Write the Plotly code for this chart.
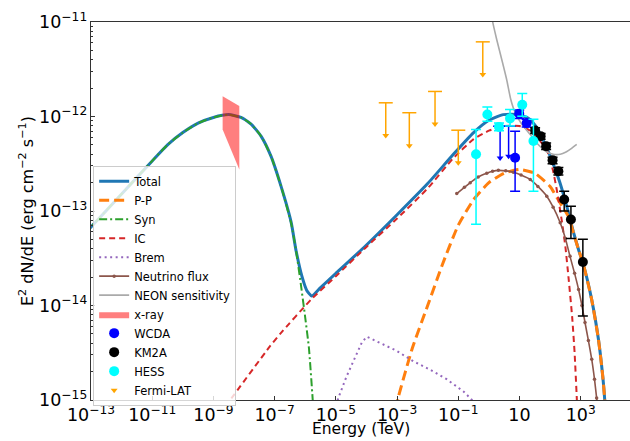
import plotly.graph_objects as go

# ---------------- model curves: log10(E/TeV), log10(E^2 dN/dE) ----------------
total_logE = [-13.2, -13.0, -12.0, -11.0, -10.5, -10.0, -9.5, -9.0, -8.5, -8.1, -7.77, -7.44,
              -7.12, -6.79, -6.46, -6.3, -6.11, -5.95, -5.79, -5.5, -5.0, -4.0, -3.0, -2.0,
              -1.16, -0.5, 0.0, 0.47, 1.0, 1.3, 1.5, 1.7, 1.9, 2.1, 2.3, 2.45, 2.6, 2.76,
              2.93, 3.09, 3.36, 3.58, 3.72, 3.78, 3.82]
total_logF = [-13.24, -13.17, -12.82, -12.47, -12.30, -12.17, -12.07, -12.01, -11.98, -12.01,
              -12.08, -12.21, -12.42, -12.74, -13.12, -13.42, -13.69, -13.84, -13.90, -13.81,
              -13.66, -13.36, -13.04, -12.71, -12.40, -12.17, -12.04, -11.98, -11.98, -12.02,
              -12.09, -12.20, -12.34, -12.50, -12.68, -12.84, -13.02, -13.22, -13.41, -13.57,
              -13.94, -14.36, -14.75, -14.98, -15.3]

pp_logE = [-3.05, -2.96, -2.5, -2.0, -1.5, -1.0, -0.5, 0.0, 0.5, 1.0, 1.5, 2.0, 2.3, 2.6,
           2.76, 2.93, 3.09, 3.36, 3.58, 3.72, 3.78, 3.82]
pp_logF = [-15.1, -14.97, -14.45, -14.0, -13.55, -13.15, -12.88, -12.70, -12.60, -12.56,
           -12.60, -12.74, -12.90, -13.06, -13.23, -13.41, -13.57, -13.94, -14.36, -14.75,
           -14.98, -15.3]

syn_logE = [-13.2, -13.0, -12.0, -11.0, -10.5, -10.0, -9.5, -9.0, -8.5, -8.1, -7.77, -7.44,
            -7.12, -6.79, -6.46, -6.3, -6.15, -6.0, -5.88, -5.76, -5.7]
syn_logF = [-13.24, -13.17, -12.82, -12.47, -12.30, -12.17, -12.07, -12.01, -11.98, -12.01,
            -12.08, -12.21, -12.42, -12.74, -13.13, -13.42, -13.76, -14.13, -14.45, -14.98, -15.3]

ic_logE = [-8.6, -8.45, -7.15, -6.82, -5.79, -5.0, -4.0, -3.0, -2.0, -1.16, -0.5, 0.0, 0.5,
           1.0, 1.35, 1.67, 1.87, 2.0, 2.1, 2.22, 2.38, 2.5, 2.6, 2.72, 2.8, 2.87, 2.9]
ic_logF = [-15.07, -15.0, -14.43, -14.30, -13.93, -13.69, -13.38, -13.08, -12.76, -12.44,
           -12.24, -12.15, -12.10, -12.10, -12.15, -12.26, -12.34, -12.45, -12.58, -12.78,
           -13.10, -13.38, -13.70, -14.12, -14.50, -14.97, -15.2]

brem_logE = [-5.0, -4.92, -4.65, -4.37, -4.15, -3.99, -3.56, -3.01, -2.47, -1.92, -1.38, -0.83,
             -0.61, -0.5]
brem_logF = [-15.06, -14.98, -14.75, -14.54, -14.39, -14.33, -14.395, -14.48, -14.59, -14.68,
             -14.78, -14.91, -14.98, -15.02]

nu_logE = [-1.05, -0.8, -0.61, -0.35, -0.07, 0.12, 0.31, 0.55, 0.80, 1.05, 1.35, 1.6, 1.89,
           2.1, 2.33, 2.5, 2.65, 2.8, 2.93, 3.04, 3.14, 3.25, 3.36, 3.45, 3.52, 3.56]
nu_logF = [-12.815, -12.75, -12.70, -12.64, -12.60, -12.58, -12.57, -12.575, -12.59, -12.62,
           -12.667, -12.74, -12.843, -12.96, -13.125, -13.29, -13.48, -13.66, -13.83, -14.0,
           -14.18, -14.37, -14.57, -14.78, -14.98, -15.1]

neon_logE = [0.10, 0.125, 0.255, 0.42, 0.58, 0.715, 0.856, 1.08, 1.35, 1.61, 1.87, 2.10, 2.33,
             2.52, 2.69, 2.87]
neon_logF = [-10.9, -11.0, -11.185, -11.397, -11.608, -11.82, -11.958, -12.085, -12.19, -12.296,
             -12.37, -12.40, -12.40, -12.376, -12.34, -12.296]

# x-ray band (butterfly)
xray_E = [2.0e-9, 7.0e-9]
xray_upper = [1.64e-12, 1.29e-12]
xray_lower = [7.28e-13, 2.75e-13]

# ---------------- data points (log10 values) ----------------
wcda_logE = [0.856, 0.99, 1.235]
wcda_logF = [-12.437, -11.97, -12.07]
wcda_logHi = [-12.155, -11.93, -12.03]
wcda_logLo = [-12.79, -12.02, -12.11]
wcda_ul_logE = [0.366, 0.644]
wcda_ul_logTop = [-12.103, -12.103]
wcda_ul_logTip = [-12.44, -12.42]

km2a_logE = [1.51, 1.69, 1.87, 2.08, 2.27, 2.46, 2.68, 3.07]
km2a_logF = [-12.148, -12.208, -12.314, -12.462, -12.579, -12.878, -13.09, -13.54]
km2a_logHi = [-12.12, -12.18, -12.28, -12.43, -12.54, -12.79, -12.95, -13.30]
km2a_logLo = [-12.18, -12.24, -12.35, -12.50, -12.62, -13.00, -13.29, -14.11]

hess_logE = [-0.42, -0.05, 0.33, 0.69, 1.09, 1.455]
hess_logF = [-12.40, -11.979, -12.11, -12.02, -11.876, -12.26]
hess_logHi = [-12.137, -11.90, -12.07, -11.926, -11.757, -12.03]
hess_logLo = [-13.14, -12.05, -12.15, -12.10, -11.997, -12.79]

fermi_logE = [-3.37, -2.60, -1.76, -1.0, -0.20]
fermi_logTop = [-11.855, -11.96, -11.735, -12.145, -11.21]
fermi_logTip = [-12.20, -12.31, -12.08, -12.49, -11.556]


def P(v):
    return [10 ** a for a in v]


def errs(lf, lhi, llo):
    y = P(lf)
    hi = [10 ** h - v for h, v in zip(lhi, y)]
    lo = [v - 10 ** l for l, v in zip(llo, y)]
    return y, hi, lo


FONT = "DejaVu Sans"
fig = go.Figure()

fig.add_trace(go.Scatter(x=P(total_logE), y=P(total_logF), mode="lines", name="Total",
                         line=dict(color="#1f77b4", width=3, shape="spline", smoothing=0.5)))
fig.add_trace(go.Scatter(x=P(pp_logE), y=P(pp_logF), mode="lines", name="P-P",
                         line=dict(color="#ff7f0e", width=3, dash="10px,5px", shape="spline", smoothing=0.5)))
fig.add_trace(go.Scatter(x=P(syn_logE), y=P(syn_logF), mode="lines", name="Syn",
                         line=dict(color="#2ca02c", width=2, dash="8px,3px,2px,3px", shape="spline", smoothing=0.5)))
fig.add_trace(go.Scatter(x=P(ic_logE), y=P(ic_logF), mode="lines", name="IC",
                         line=dict(color="#d62728", width=2, dash="6px,4px", shape="spline", smoothing=0.5)))
fig.add_trace(go.Scatter(x=P(brem_logE), y=P(brem_logF), mode="lines", name="Brem",
                         line=dict(color="#9467bd", width=2, dash="2px,3.5px")))
fig.add_trace(go.Scatter(x=P(nu_logE), y=P(nu_logF), mode="lines+markers", name="Neutrino flux",
                         line=dict(color="#8c564b", width=1.6, shape="spline", smoothing=0.5),
                         marker=dict(color="#8c564b", size=3.5)))
fig.add_trace(go.Scatter(x=P(neon_logE), y=P(neon_logF), mode="lines", name="NEON sensitivity",
                         line=dict(color="#aaaaaa", width=1.6, shape="spline", smoothing=0.5)))
fig.add_trace(go.Scatter(x=[xray_E[0], xray_E[1], xray_E[1], xray_E[0], xray_E[0]],
                         y=[xray_upper[0], xray_upper[1], xray_lower[1], xray_lower[0], xray_upper[0]],
                         mode="lines", fill="toself", fillcolor="rgba(255,0,0,0.5)",
                         line=dict(width=0, color="rgba(255,0,0,0)"), name="x-ray"))

# WCDA
y, hi, lo = errs(wcda_logF, wcda_logHi, wcda_logLo)
fig.add_trace(go.Scatter(x=P(wcda_logE), y=y, mode="markers", name="WCDA",
                         marker=dict(color="#0000ff", size=10),
                         error_y=dict(type="data", symmetric=False, array=hi, arrayminus=lo,
                                      color="#0000ff", thickness=1.5, width=5)))
ulb_top = P(wcda_ul_logTop)
ulb_tip = P(wcda_ul_logTip)
fig.add_trace(go.Scatter(x=P(wcda_ul_logE), y=ulb_tip, mode="markers", showlegend=False,
                         marker=dict(color="#0000ff", size=6, symbol="triangle-down"),
                         error_y=dict(type="data", symmetric=False,
                                      array=[t - b for t, b in zip(ulb_top, ulb_tip)],
                                      arrayminus=[0] * len(ulb_tip), color="#0000ff",
                                      thickness=1.5, width=0)))
fig.add_trace(go.Scatter(x=P(wcda_ul_logE), y=ulb_top, mode="markers", showlegend=False,
                         marker=dict(symbol="line-ew", size=10, line=dict(color="#0000ff", width=1.5))))

# KM2A
y, hi, lo = errs(km2a_logF, km2a_logHi, km2a_logLo)
fig.add_trace(go.Scatter(x=P(km2a_logE), y=y, mode="markers", name="KM2A",
                         marker=dict(color="black", size=10),
                         error_y=dict(type="data", symmetric=False, array=hi, arrayminus=lo,
                                      color="black", thickness=1.5, width=5)))
# HESS
y, hi, lo = errs(hess_logF, hess_logHi, hess_logLo)
fig.add_trace(go.Scatter(x=P(hess_logE), y=y, mode="markers", name="HESS",
                         marker=dict(color="#00ffff", size=10),
                         error_y=dict(type="data", symmetric=False, array=hi, arrayminus=lo,
                                      color="#00ffff", thickness=1.5, width=5)))
# Fermi-LAT upper limits
f_top = P(fermi_logTop)
f_tip = P(fermi_logTip)
fig.add_trace(go.Scatter(x=P(fermi_logE), y=f_tip, mode="markers", name="Fermi-LAT",
                         marker=dict(color="#ffa500", size=6, symbol="triangle-down"),
                         error_y=dict(type="data", symmetric=False,
                                      array=[t - b for t, b in zip(f_top, f_tip)],
                                      arrayminus=[0] * len(f_tip), color="#ffa500",
                                      thickness=1.5, width=0)))
fig.add_trace(go.Scatter(x=P(fermi_logE), y=f_top, mode="markers", showlegend=False,
                         marker=dict(symbol="line-ew", size=10, line=dict(color="#ffa500", width=1.5))))

axis_common = dict(type="log", exponentformat="power", showexponent="all", showgrid=False,
                   zeroline=False, showline=True, mirror=True, linecolor="#333333", linewidth=1,
                   ticks="inside", ticklen=4, tickcolor="#333333", automargin=False,
                   tickfont=dict(family=FONT, size=14, color="black"))

fig.update_layout(
    width=630, height=441,
    margin=dict(l=91, r=0, t=22, b=41, autoexpand=False),
    paper_bgcolor="white", plot_bgcolor="white",
    font=dict(family=FONT, color="black"),
    xaxis=dict(axis_common, range=[-13, 4.61], tick0=-13, dtick=2),
    yaxis=dict(axis_common, range=[-15, -11], tick0=-15, dtick=1,
               minor=dict(ticks="inside", ticklen=2, dtick="D1", tickcolor="#333333", showgrid=False)),
    legend=dict(x=0.004, y=0.62, xanchor="left", yanchor="top",
                bgcolor="rgba(255,255,255,0.8)", bordercolor="#cccccc", borderwidth=1,
                font=dict(family=FONT, size=11.5, color="black"), itemwidth=30,
                traceorder="normal"),
    showlegend=True,
    annotations=[
        dict(text="Energy (TeV)", xref="paper", yref="paper", x=0.5, y=-0.1045,
             xanchor="center", yanchor="bottom", showarrow=False,
             font=dict(family=FONT, size=15.5, color="black")),
        dict(text="E<sup>2</sup> dN/dE (erg cm<sup>−2</sup> s<sup>−1</sup>)", xref="paper",
             yref="paper", x=-0.1206, y=0.5, xanchor="center", yanchor="middle",
             textangle=-90, showarrow=False, font=dict(family=FONT, size=16, color="black")),
    ],
)

fig.write_html("out.html", config={"displayModeBar": False},
               post_script="document.body.style.margin='0px';document.body.style.overflow='hidden';")
